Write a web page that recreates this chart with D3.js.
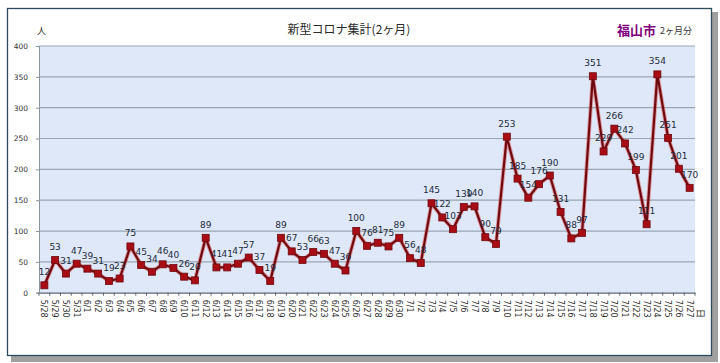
<!DOCTYPE html>
<html>
<head>
<meta charset="utf-8">
<script src="https://cdn.jsdelivr.net/npm/d3@7"></script>
<style>
  body { margin: 0; background: #fff; }
  svg { display: block; }
</style>
</head>
<body>
<div id="chart"></div>
<script>
// Datas (5/28 - 7/27)
const dates = [
  "5/28", "5/29", "5/30", "5/31",
  "6/1", "6/2", "6/3", "6/4", "6/5", "6/6", "6/7", "6/8", "6/9", "6/10",
  "6/11", "6/12", "6/13", "6/14", "6/15", "6/16", "6/17", "6/18", "6/19", "6/20",
  "6/21", "6/22", "6/23", "6/24", "6/25", "6/26", "6/27", "6/28", "6/29", "6/30",
  "7/1", "7/2", "7/3", "7/4", "7/5", "7/6", "7/7", "7/8", "7/9", "7/10",
  "7/11", "7/12", "7/13", "7/14", "7/15", "7/16", "7/17", "7/18", "7/19", "7/20",
  "7/21", "7/22", "7/23", "7/24", "7/25", "7/26", "7/27"
];
// Casos por dia
const cases = [
  12, 53, 31, 47,
  39, 31, 19, 23, 75, 45, 34, 46, 40, 26,
  20, 89, 41, 41, 47, 57, 37, 19, 89, 67,
  53, 66, 63, 47, 36, 100, 76, 81, 75, 89,
  56, 48, 145, 122, 103, 139, 140, 90, 79, 253,
  185, 154, 176, 190, 131, 88, 97, 351, 229, 266,
  242, 199, 111, 354, 251, 201, 170
];
const yTicks = [0, 50, 100, 150, 200, 250, 300, 350, 400];

const width = 720, height = 363;
const margin = { top: 46, right: 25, bottom: 70, left: 39 };
const innerWidth = width - margin.left - margin.right;
const innerHeight = 292.7 - margin.top;

const jp = "'Noto Sans CJK JP', sans-serif";
const num = "'DejaVu Sans', sans-serif";

const svg = d3.select("#chart").append("svg")
  .attr("width", width).attr("height", height);

// Sombra e moldura
svg.append("rect").attr("x", 11).attr("y", 12).attr("width", 707).attr("height", 350)
  .attr("fill", "#a0a0a0");
svg.append("rect").attr("x", 7.5).attr("y", 8.5).attr("width", 704).attr("height", 347)
  .attr("fill", "#fff").attr("stroke", "#2e4b5c").attr("stroke-width", 1.3);

// Títulos
svg.append("text").attr("x", 349).attr("y", 34).attr("text-anchor", "middle")
  .style("font-family", jp).style("font-size", "12px").style("fill", "#2a2a2a")
  .text("新型コロナ集計(2ヶ月)");
svg.append("text").attr("x", 617).attr("y", 35)
  .style("font-family", jp).style("font-size", "13px").style("font-weight", "bold")
  .style("fill", "#800080").text("福山市");
svg.append("text").attr("x", 660).attr("y", 34)
  .style("font-family", jp).style("font-size", "9px").style("fill", "#333")
  .text("2ヶ月分");
svg.append("text").attr("x", 37).attr("y", 34)
  .style("font-family", jp).style("font-size", "9px").style("fill", "#333")
  .text("人");

const g = svg.append("g").attr("transform", `translate(${margin.left},${margin.top})`);

const xScale = d3.scaleBand().domain(dates).range([0, innerWidth]);
const yScale = d3.scaleLinear().domain([0, 400]).range([innerHeight, 0]);
const cx = d => xScale(d) + xScale.bandwidth() / 2;

g.append("rect").attr("width", innerWidth).attr("height", innerHeight).attr("fill", "#dfe8f8");

// Grade
g.append("g").selectAll("line").data(yTicks.filter(t => t > 0)).join("line")
  .attr("x1", 0).attr("x2", innerWidth)
  .attr("y1", d => yScale(d)).attr("y2", d => yScale(d))
  .attr("stroke", "#98a6b2").attr("stroke-width", 1.2);

// Eixo Y
const yAxis = g.append("g").call(d3.axisLeft(yScale).tickValues(yTicks).tickSize(3).tickPadding(8));
yAxis.select(".domain").attr("stroke", "#8a96a0");
yAxis.selectAll(".tick line").attr("stroke", "#8a96a0");
yAxis.selectAll("text").style("font-family", num).style("font-size", "7.5px").style("fill", "#333");

// Eixo X
const xAxis = g.append("g").attr("transform", `translate(0,${innerHeight})`)
  .call(d3.axisBottom(xScale).tickSize(0).tickPadding(0));
xAxis.select(".domain").attr("stroke", "#5a6670").attr("stroke-width", 1.2);
xAxis.selectAll(".tick text")
  .attr("transform", "translate(-3,7) rotate(90)")
  .attr("text-anchor", "start").attr("dy", 0).attr("y", 0)
  .style("font-family", num).style("font-size", "8px").style("fill", "#333");
g.append("g").selectAll("line").data(dates.concat(["end"])).join("line")
  .attr("x1", (d, i) => i * xScale.bandwidth()).attr("x2", (d, i) => i * xScale.bandwidth())
  .attr("y1", innerHeight).attr("y2", innerHeight + 3)
  .attr("stroke", "#5a6670");

svg.append("text").attr("transform", `translate(697,309) rotate(90)`)
  .style("font-family", jp).style("font-size", "9px").style("fill", "#333").text("日");

// Linha
const line = d3.line().x((d, i) => cx(dates[i])).y(d => yScale(d));
g.append("path").datum(cases).attr("d", line)
  .attr("fill", "none").attr("stroke", "#e04040").attr("stroke-width", 4).attr("stroke-opacity", 0.5)
  .attr("stroke-linejoin", "round");
g.append("path").datum(cases).attr("d", line)
  .attr("fill", "none").attr("stroke", "#6e0a10").attr("stroke-width", 2.2)
  .attr("stroke-linejoin", "round");

// Marcadores
g.append("g").selectAll("rect").data(cases).join("rect")
  .attr("x", (d, i) => cx(dates[i]) - 3.5).attr("y", d => yScale(d) - 3.5)
  .attr("width", 7).attr("height", 7)
  .attr("fill", "#a80c14").attr("stroke", "#6e0a10").attr("stroke-width", 0.8);

// Rótulos
g.append("g").selectAll("text").data(cases).join("text")
  .attr("x", (d, i) => cx(dates[i])).attr("y", d => yScale(d) - 10)
  .attr("text-anchor", "middle")
  .style("font-family", num).style("font-size", "9px").style("fill", "#1c2c3c")
  .text(d => d);
</script>
</body>
</html>
